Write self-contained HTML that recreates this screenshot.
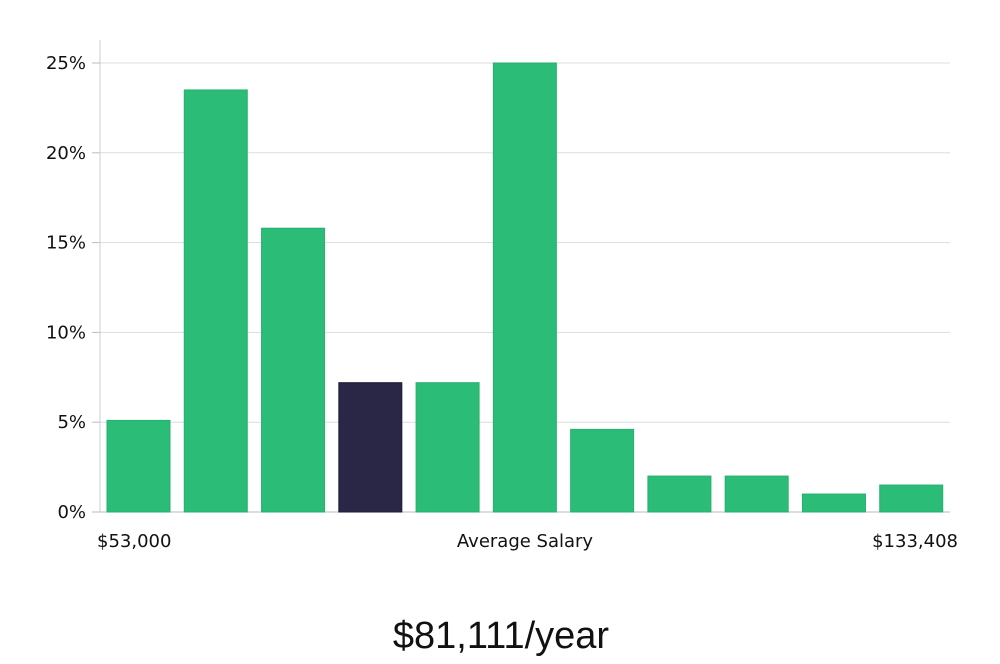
<!DOCTYPE html>
<html><head><meta charset="utf-8"><style>
html,body{margin:0;padding:0;background:#fff;}
body{width:1000px;height:660px;overflow:hidden;font-family:"DejaVu Sans","Liberation Sans",sans-serif;}
</style></head><body>
<svg id="chart" width="1000" height="660" xmlns="http://www.w3.org/2000/svg"></svg>
<script>
const categories=["b1","b2","b3","b4","b5","b6","b7","b8","b9","b10","b11"];
const values=[5.1,23.5,15.8,7.2,7.2,25,4.6,2.0,2.0,1.0,1.5];
const highlightIndex=3;
const yTicks=[0,5,10,15,20,25];
const yTickLabels=["0%","5%","10%","15%","20%","25%"];
const xLabels=["$53,000","Average Salary","$133,408"];
const chartTitle="$81,111/year";

(function(){
const svg=document.getElementById('chart');
const NS='http://www.w3.org/2000/svg';
const plotLeft=100,plotRight=950,plotTop=40,plotBottom=512,yMax=25,yMaxPx=63;
function y(v){return plotBottom-(v/yMax)*(plotBottom-yMaxPx);}
const step=(plotRight-plotLeft)/categories.length;
const bw=63;
function xb(i){return plotLeft+7+i*step;}
function mk(tag,attrs){const e=document.createElementNS(NS,tag);for(const k in attrs)e.setAttribute(k,attrs[k]);svg.appendChild(e);return e;}

yTicks.forEach((t,i)=>{
  const g=mk('line',{x1:plotLeft,x2:plotRight,y1:y(t),y2:y(t),stroke:t===0?'#bbb':'#ddd','stroke-width':1});
  
  
  const tk=mk('line',{x1:plotLeft-8,x2:plotLeft,y1:y(t),y2:y(t),stroke:'#bbb','stroke-width':1});
  
  
  const tx=mk('text',{x:plotLeft-14,y:y(t)+6,'text-anchor':'end','font-size':18,fill:'#111'});
  tx.textContent=yTickLabels[i];
  
  
});
const ax=mk('line',{x1:plotLeft,x2:plotLeft,y1:plotTop,y2:plotBottom,stroke:'#ccc','stroke-width':1});



values.forEach((v,i)=>{
  const r=mk('rect',{x:xb(i),y:y(v),width:bw,height:plotBottom-y(v),fill:i===highlightIndex?'#2a2646':'#2bbd77',stroke:i===highlightIndex?'#1e1a3a':'#27b06d','stroke-width':1});
  
  
});

const xl=[[97,'start'],[525,'middle'],[958,'end']];
xLabels.forEach((l,i)=>{
  const t=mk('text',{x:xl[i][0],y:547,'text-anchor':xl[i][1],'font-size':18,fill:'#111'});
  t.textContent=l;
  
  
});
const tt=mk('text',{x:501,y:648,'text-anchor':'middle','font-size':38,fill:'#111','font-family':'"Liberation Sans",sans-serif','font-weight':'300'});
tt.textContent=chartTitle;


})();
</script>
</body></html>
